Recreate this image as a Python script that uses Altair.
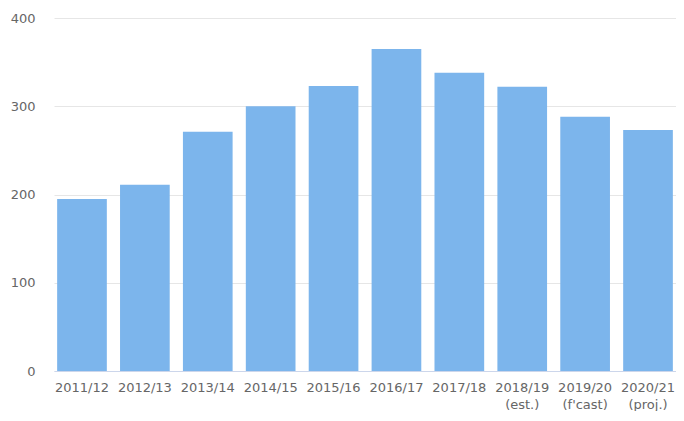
import altair as alt
import pandas as pd

categories = ["2011/12", "2012/13", "2013/14", "2014/15", "2015/16", "2016/17",
              "2017/18", "2018/19|(est.)", "2019/20|(f'cast)", "2020/21|(proj.)"]
values = [195, 211, 271, 300, 323, 365, 338, 322, 288, 273]

df = pd.DataFrame({"period": categories, "value": values})

chart = alt.Chart(df).mark_bar(color="#7cb5ec").encode(
    x=alt.X("period:N", sort=categories, title=None,
            scale=alt.Scale(paddingInner=0.21, paddingOuter=0.05),
            axis=alt.Axis(labelAngle=0, labelExpr="split(datum.label, '|')",
                          labelFont="DejaVu Sans", labelFontSize=13, labelColor="#666666",
                          labelPadding=10, labelLineHeight=17, ticks=False,
                          domainColor="#ccd6eb", grid=False)),
    y=alt.Y("value:Q", title=None,
            scale=alt.Scale(domain=[0, 400]),
            axis=alt.Axis(values=[0, 100, 200, 300, 400], labelFont="DejaVu Sans",
                          labelFontSize=13, labelColor="#666666", labelPadding=19,
                          ticks=False, domain=False, gridColor="#e6e6e6"))
).properties(
    width=622, height=353,
    autosize=alt.AutoSizeParams(type="none"),
    padding={"left": 46, "top": 10, "right": 0, "bottom": 40}
).configure_view(stroke=None)

chart.save("out.html", embed_options={"renderer": "svg", "actions": False})
